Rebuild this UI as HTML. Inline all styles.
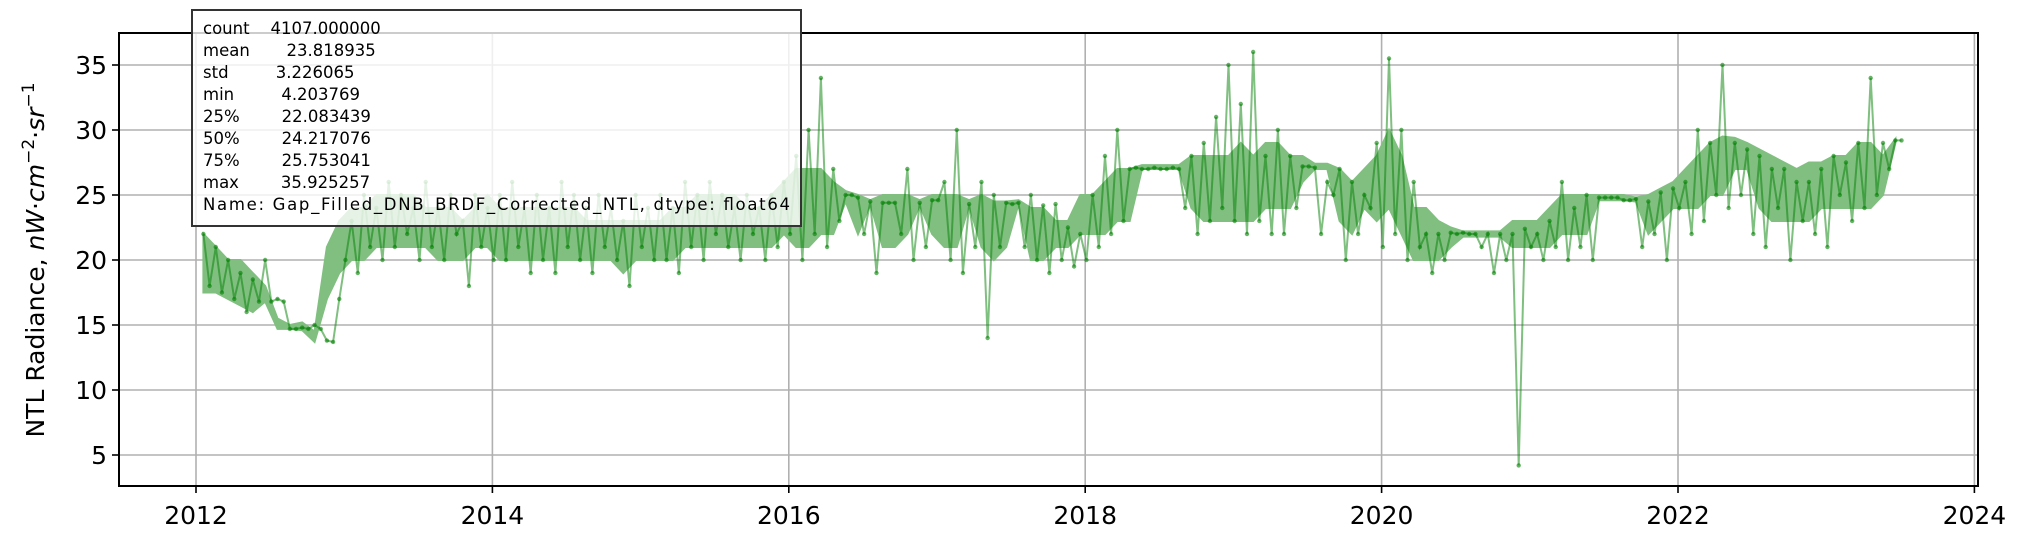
<!DOCTYPE html>
<html><head><meta charset="utf-8"><style>
html,body{margin:0;padding:0;background:#fff;}
svg{display:block;font-family:"DejaVu Sans","Liberation Sans",sans-serif;}
</style></head><body>
<svg id="chart" width="2032" height="553" viewBox="0 0 2032 553" xmlns="http://www.w3.org/2000/svg">
<rect width="2032" height="553" fill="#fff"/>
<g id="grid"></g>
<g id="series"></g>
<g id="axes"></g>
<text transform="translate(44,260) rotate(-90)" text-anchor="middle" font-size="25">NTL Radiance, <tspan font-style="italic">nW</tspan>·<tspan font-style="italic">cm</tspan><tspan font-size="17" dy="-10">−2</tspan><tspan dy="10">·</tspan><tspan font-style="italic">sr</tspan><tspan font-size="17" dy="-10">−1</tspan></text>
<g>
<rect x="192" y="10" width="609" height="216" fill="#fff" fill-opacity="0.8" stroke="#333" stroke-width="2"/>
<g font-size="16.5" fill="#000">
<text x="203" y="34" xml:space="preserve">count    4107.000000</text>
<text x="203" y="56" xml:space="preserve">mean       23.818935</text>
<text x="203" y="78" xml:space="preserve">std         3.226065</text>
<text x="203" y="100" xml:space="preserve">min         4.203769</text>
<text x="203" y="122" xml:space="preserve">25%        22.083439</text>
<text x="203" y="144" xml:space="preserve">50%        24.217076</text>
<text x="203" y="166" xml:space="preserve">75%        25.753041</text>
<text x="203" y="188" xml:space="preserve">max        35.925257</text>
<text x="203" y="210" textLength="587">Name: Gap_Filled_DNB_BRDF_Corrected_NTL, dtype: float64</text>
</g>
</g>
</svg>
<script>
const startYear = 2012.05;
const stepsPerYear = 24;
const ntlValues = [
// 2012
22,18,21,17.5,20,17,19,16,18.5,16.8,20,16.8,17,16.8,14.7,14.7,14.8,14.7,15,14.7,13.8,13.7,17,20,
// 2013
23,19,25,21,24,20,26,21,25,22,24,20,26,21,24,20,25,22,23,18,25,21,24,20,
// 2014
25,20,26,21,24,19,25,20,24,19,26,21,25,20,24,19,25,21,24,20,23,18,25,21,
// 2015
24,20,25,20,24,19,26,21,25,20,26,22,25,21,24,20,25,22,24,20,25,21,26,22,
// 2016
28,20,30,22,34,21,27,23,25,25,24.8,22,24.5,19,24.4,24.4,24.4,22,27,20,24.4,21,24.6,24.6,
// 2017
26,20,30,19,24.3,21,26,14,25,21,24.4,24.3,24.4,21,25,20,24.2,19,24.3,20,22.5,19.5,22,20,
// 2018
25,21,28,22,30,23,27,27.1,27,27,27.1,27,27,27.1,27,24,28,22,29,23,31,24,35,23,
// 2019
32,22,36,23,28,22,30,22,28,24,27.2,27.2,27.1,22,26,25,27,20,26,22,25,24,29,21,
// 2020
35.5,22,30,20,26,21,22,19,22,20,22.1,22,22.1,22,22,21,22,19,22,20,22,4.2,22.4,21,
// 2021
22,20,23,21,26,20,24,21,25,20,24.8,24.8,24.8,24.8,24.6,24.6,24.7,21,24.5,22,25.2,20,25.5,24,
// 2022
26,22,30,23,29,25,35,24,29,25,28.5,22,28,21,27,24,27,20,26,23,26,22,27,21,
// 2023
28,25,27.5,23,29,24,34,25,29,27,29.2,29.2
];
// monthly dense core of the daily series (low / high)
const bandStart = 2012.05;
const bandPerYear = 12;
const bandLow = [
17.5,17.5,17,16.5,16,16.8,14.7,14.7,14.6,13.7,17,19,
20,20,21,21,21,21,21,20,20,20,21,21,
20,20,20,20,20,20,20,20,20,20,19,20,
20,20,20,21,21,21,21,21,21,21,21,22,
21,21,22,22,24.5,22,24.3,21,21,22,24.2,22,
21,21,24.2,21,20,21,24.3,20,20,21,21,22,
22,22,23,23,27,27,27,27,24,23,23,23,
23,23,24,24,24,26,27,27,23,22,24,23,
24,22,20,20,20,21,21.8,21.8,21.8,21.8,21,21,
21,21,22,22,22,24.6,24.6,24.6,24.5,22,23,24,
24,24,25,25,27,27,24,23,23,23,23,24,
24,24,24,24,25,29
];
const bandHigh = [
22,21,20,20,19,18,15.5,15,15.2,14.5,21,23,
24,24,25,25,25,25,24,24,24,23,24,25,
24,24,24,24,24,24,24,23,23,23,23,23,
23,23,24,24,25,25,25,25,24,24,25,26,
27,27,27,26,25.3,25,24.6,25,25,25,24.6,25,
25,25,24.6,25,24.5,24.5,24.6,24,24,23,23,25,
25,26,27,27,27.3,27.3,27.3,27.3,28,28,28,28,
29,28,29,29,28,28,27.4,27.4,27,26,27,28,
30,28,24,24,23,22.5,22.2,22.2,22.2,22.2,23,23,
23,24,25,25,25,25,25,25,24.8,25,25.5,26,
27,28,29,29.5,29.4,29,28.5,28,27.5,27,27.5,27.5,
28,28,29,29,28,29.3
];
const yTicks = [5,10,15,20,25,30,35];
const xTicks = [2012,2014,2016,2018,2020,2022,2024];

const L=119,R=1978,T=33,B=486;
function xs(v){return 196+(v-2012)*148.2;}
function ys(v){return 520-v*13;}
const NS="http://www.w3.org/2000/svg";
function mk(tag,attrs,parent){const e=document.createElementNS(NS,tag);for(const k in attrs)e.setAttribute(k,attrs[k]);parent.appendChild(e);return e;}
const grid=document.getElementById('grid'),series=document.getElementById('series'),axes=document.getElementById('axes');
yTicks.forEach(t=>{
  const g=mk('line',{x1:L,x2:R,y1:ys(t),y2:ys(t),stroke:'#b0b0b0','stroke-width':1.6},grid);
  
  
  const tk=mk('line',{x1:L-7,x2:L,y1:ys(t),y2:ys(t),stroke:'#000','stroke-width':1.6},axes);
  
  
  const lb=mk('text',{x:L-12,y:ys(t)+9,'text-anchor':'end','font-size':25},axes);
  lb.textContent=t;
  
  
});
xTicks.forEach(t=>{
  const g=mk('line',{x1:xs(t),x2:xs(t),y1:T,y2:B,stroke:'#b0b0b0','stroke-width':1.6},grid);
  
  
  const tk=mk('line',{x1:xs(t),x2:xs(t),y1:B,y2:B+7,stroke:'#000','stroke-width':1.6},axes);
  
  
  const lb=mk('text',{x:xs(t),y:B+38,'text-anchor':'middle','font-size':25},axes);
  lb.textContent=t;
  
  
});
// dense band
const bx=bandLow.map((v,i)=>xs(bandStart+i/bandPerYear));
let bp=bandHigh.map((v,i)=>bx[i].toFixed(1)+','+ys(v).toFixed(1));
for(let i=bandLow.length-1;i>=0;i--)bp.push(bx[i].toFixed(1)+','+ys(bandLow[i]).toFixed(1));
const band=mk('polygon',{points:bp.join(' '),fill:'#80bf80',stroke:'#80bf80','stroke-width':2},series);


const pts=ntlValues.map((v,i)=>[xs(startYear+i/stepsPerYear),ys(v)]);
const line=mk('polyline',{points:pts.map(p=>p[0].toFixed(1)+','+p[1].toFixed(1)).join(' '),fill:'none',stroke:'green','stroke-opacity':0.5,'stroke-width':2},series);


pts.forEach(p=>{
  const c=mk('circle',{cx:p[0],cy:p[1],r:2.2,fill:'green','fill-opacity':0.6},series);
  
  
});
const frame=mk('rect',{x:L,y:T,width:R-L,height:B-T,fill:'none',stroke:'#000','stroke-width':2},axes);


</script>
</body></html>
